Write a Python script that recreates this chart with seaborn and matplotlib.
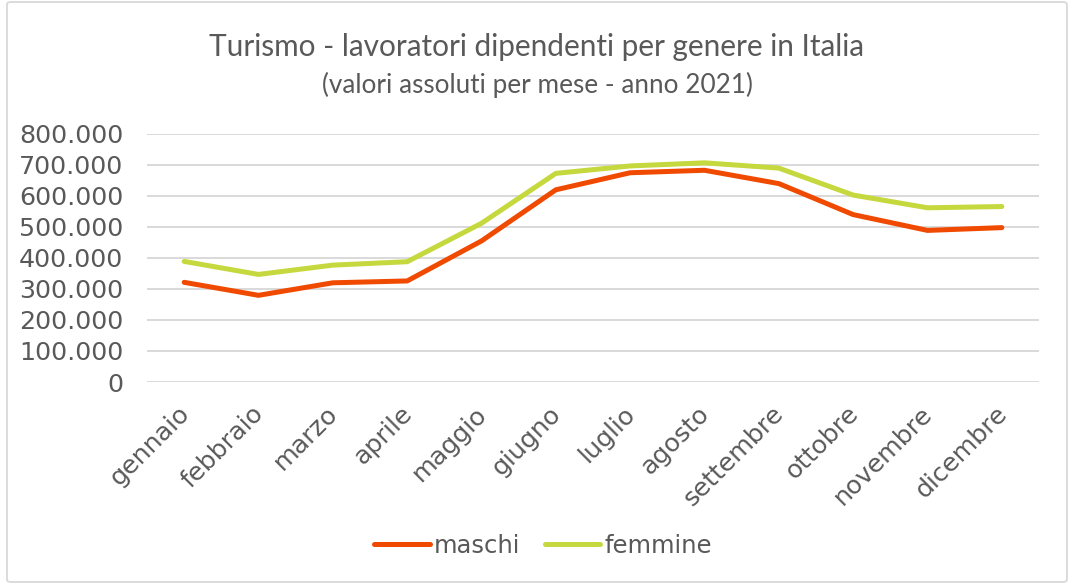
import matplotlib
matplotlib.use("Agg")
import matplotlib.pyplot as plt
from matplotlib.patches import FancyBboxPatch
from matplotlib.ticker import FuncFormatter
from matplotlib.lines import Line2D
from matplotlib.transforms import ScaledTranslation
import seaborn as sns
import pandas as pd

mesi = ["gennaio", "febbraio", "marzo", "aprile", "maggio", "giugno",
        "luglio", "agosto", "settembre", "ottobre", "novembre", "dicembre"]
maschi = [321500, 279600, 320000, 326000, 455000, 620000,
          675000, 683000, 640000, 540000, 489000, 498000]
femmine = [389000, 347000, 377000, 388000, 512000, 673000,
           697000, 707000, 690000, 603000, 562000, 566000]
y_ticks = [0, 100000, 200000, 300000, 400000, 500000, 600000, 700000, 800000]

df = pd.DataFrame({
    "mese": mesi * 2,
    "pos": list(range(len(mesi))) * 2,
    "valore": maschi + femmine,
    "genere": ["maschi"] * len(mesi) + ["femmine"] * len(mesi),
})

sns.set_theme(style="white")
plt.rcParams["font.family"] = ["DejaVu Sans"]

W, H = 1068, 584
fig = plt.figure(figsize=(W / 100, H / 100), dpi=100)
fig.patch.set_facecolor("white")

border = FancyBboxPatch((7 / W, 2 / H), (1067 - 7) / W, (582 - 2) / H,
                        boxstyle="round,pad=0,rounding_size=0.004",
                        transform=fig.transFigure, facecolor="white",
                        edgecolor="#D9D9D9", linewidth=1.3, zorder=-10)
fig.patches.append(border)

ax = fig.add_axes([147 / W, 1 - 382 / H, (1039 - 147) / W, (382 - 134) / H])
ax.set_facecolor("none")
ax.set_zorder(2)

palette = {"maschi": "#F04A00", "femmine": "#C5D83D"}
sns.lineplot(data=df, x="pos", y="valore", hue="genere", palette=palette,
             linewidth=3.6, ax=ax, legend=False, hue_order=["maschi", "femmine"],
             solid_capstyle="round", solid_joinstyle="round", zorder=3)
ax.set_xlim(-0.5, len(mesi) - 0.5)
ax.set_ylim(0, 800000)
ax.set_yticks(y_ticks)
ax.yaxis.set_major_formatter(FuncFormatter(lambda v, p: f"{int(v):,}".replace(",", ".")))
ax.set_xticks(range(len(mesi)))
ax.set_xticklabels(mesi, rotation=45, ha="right", rotation_mode="anchor")
ax.grid(axis="y", color="#D9D9D9", linewidth=1.4)
ax.grid(axis="x", visible=False)
for s in ax.spines.values():
    s.set_visible(False)
ax.tick_params(axis="y", length=0, pad=17, labelsize=18.3, labelcolor="#595959")
ax.tick_params(axis="x", length=0, pad=12, labelsize=18.3, labelcolor="#595959")
offset = ScaledTranslation(-7 / 100, -3 / 100, fig.dpi_scale_trans)
for lbl in ax.get_xticklabels():
    lbl.set_transform(lbl.get_transform() + offset)
ax.set_xlabel("")
ax.set_ylabel("")

fig.text(0.502, 1 - 47 / H, "Turismo - lavoratori dipendenti per genere in Italia",
         ha="center", va="center", fontsize=21.4, color="#595959", family=["Lato", "DejaVu Sans"])
fig.text(0.503, 1 - 85 / H, "(valori assoluti per mese - anno 2021)",
         ha="center", va="center", fontsize=18.8, color="#595959", family=["Lato", "DejaVu Sans"])

handles = [Line2D([0], [0], color=palette[g], linewidth=3.6, solid_capstyle="round")
           for g in ["maschi", "femmine"]]
fig.legend(handles, ["maschi", "femmine"], loc="center", bbox_to_anchor=(0.5 + 9 / W, 1 - 546 / H),
           ncol=2, frameon=False, fontsize=17.5, labelcolor="#595959",
           handlelength=2.3, handletextpad=0.15, columnspacing=1.0)

fig.savefig("out.png", dpi=100, facecolor="white")
